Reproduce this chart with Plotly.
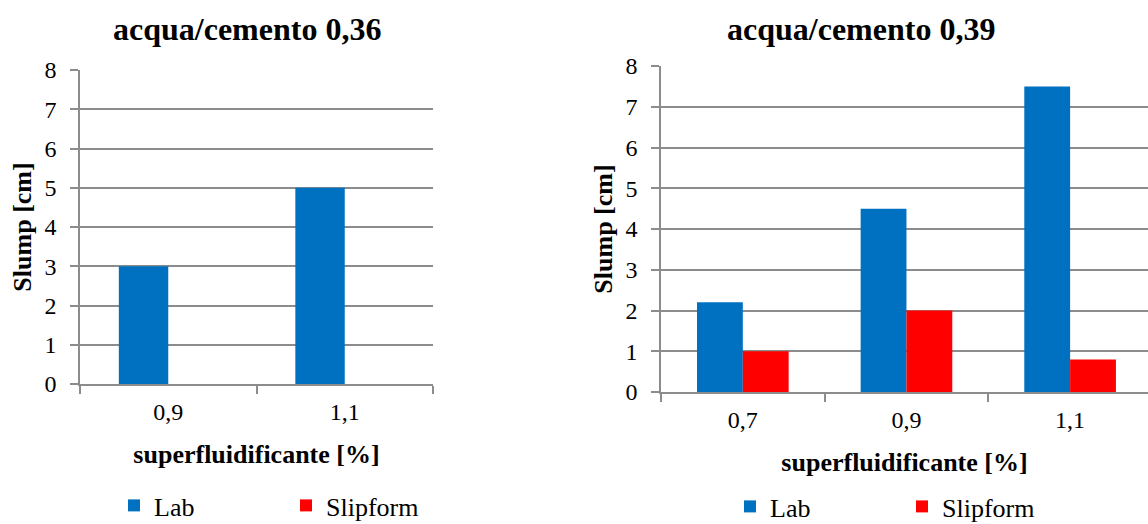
import plotly.graph_objects as go

W, H = 1148, 524

# Data
cats_036 = ["0,9", "1,1"]
lab_036 = [3, 5]
slip_036 = [0, 0]

cats_039 = ["0,7", "0,9", "1,1"]
lab_039 = [2.2, 4.5, 7.5]
slip_039 = [1, 2, 0.8]

series_names = ["Lab", "Slipform"]
colors = ["#0070C0", "#FF0000"]
y_ticks = [0, 1, 2, 3, 4, 5, 6, 7, 8]

FONT = "Liberation Serif"
GRID = "#8C8C8C"

fig = go.Figure()

# left chart
fig.add_trace(go.Bar(x=cats_036, y=lab_036, name=series_names[0], marker_color=colors[0],
                     xaxis="x", yaxis="y", legend="legend", marker_line_width=0))
fig.add_trace(go.Bar(x=cats_036, y=slip_036, name=series_names[1], marker_color=colors[1],
                     xaxis="x", yaxis="y", legend="legend", marker_line_width=0))
# right chart
fig.add_trace(go.Bar(x=cats_039, y=lab_039, name=series_names[0], marker_color=colors[0],
                     xaxis="x2", yaxis="y2", legend="legend2", marker_line_width=0))
fig.add_trace(go.Bar(x=cats_039, y=slip_039, name=series_names[1], marker_color=colors[1],
                     xaxis="x2", yaxis="y2", legend="legend2", marker_line_width=0))

def px_x(p):
    return p / W

def px_y(p):
    return (H - p) / H

common_x = dict(
    type="category", showgrid=False, showline=True, linecolor=GRID, linewidth=1.5,
    ticks="outside", ticklen=8, tickwidth=1.5, tickcolor=GRID, tickson="boundaries",
    tickfont=dict(family=FONT, size=24, color="black"), ticklabelstandoff=5,
    title=dict(text="<b>superfluidificante [%]</b>", font=dict(family=FONT, size=26, color="black"),
               standoff=21),
    zeroline=False, fixedrange=True, automargin=False,
)
common_y = dict(
    range=[0, 8], tickvals=y_ticks, showgrid=True, gridcolor=GRID, gridwidth=1.5,
    showline=True, linecolor=GRID, linewidth=1.5,
    ticks="outside", ticklen=8, tickwidth=1.5, tickcolor=GRID,
    tickfont=dict(family=FONT, size=24, color="black"), ticklabelstandoff=9,
    title=dict(text="<b>Slump [cm]</b>", font=dict(family=FONT, size=26, color="black"),
               standoff=5),
    zeroline=False, fixedrange=True, automargin=False,
)

fig.update_layout(
    width=W, height=H,
    margin=dict(l=0, r=0, t=0, b=0, autoexpand=False),
    paper_bgcolor="white", plot_bgcolor="white",
    barmode="group", bargap=0.44, bargroupgap=0,
    font=dict(family=FONT, color="black"),
    xaxis=dict(common_x, domain=[px_x(80), px_x(433)], anchor="y", range=[-0.5, 1.5]),
    yaxis=dict(common_y, domain=[px_y(384), px_y(70)], anchor="x"),
    xaxis2=dict(common_x, domain=[px_x(661), 1.0], anchor="y2", range=[-0.5, 2.476]),
    yaxis2=dict(common_y, domain=[px_y(392), px_y(66)], anchor="x2"),
    legend=dict(orientation="h", x=px_x(114), xanchor="left", y=px_y(482), yanchor="top",
                font=dict(family=FONT, size=26, color="black"), entrywidth=127,
                bgcolor="rgba(0,0,0,0)", itemclick=False, itemdoubleclick=False),
    legend2=dict(orientation="h", x=px_x(730), xanchor="left", y=px_y(483), yanchor="top",
                 font=dict(family=FONT, size=26, color="black"), entrywidth=127,
                 bgcolor="rgba(0,0,0,0)", itemclick=False, itemdoubleclick=False),
    annotations=[
        dict(text="<b>acqua/cemento 0,36</b>", x=px_x(247), y=px_y(29), xref="paper", yref="paper",
             xanchor="center", yanchor="middle", showarrow=False,
             font=dict(family=FONT, size=32, color="black")),
        dict(text="<b>acqua/cemento 0,39</b>", x=px_x(861), y=px_y(29), xref="paper", yref="paper",
             xanchor="center", yanchor="middle", showarrow=False,
             font=dict(family=FONT, size=32, color="black")),
    ],
    showlegend=True,
)

fig.write_html("out.html")
